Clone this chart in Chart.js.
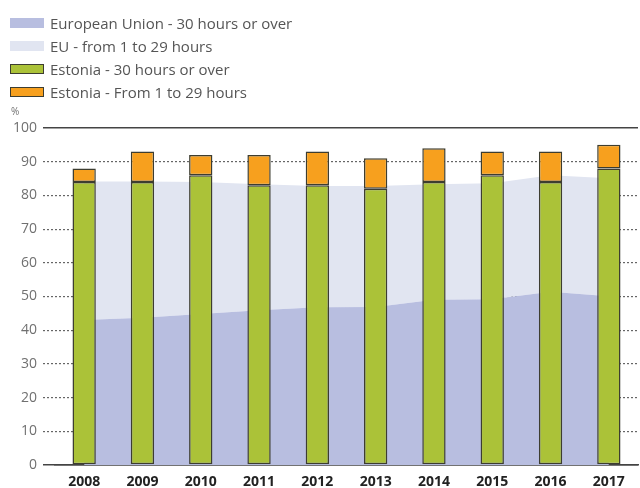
<!DOCTYPE html>
<html>
<head>
<meta charset="utf-8">
<script src="https://cdn.jsdelivr.net/npm/chart.js@4.4.1/dist/chart.umd.min.js"></script>
<style>
body { margin: 0; background: #fff; font-family: "Open Sans", sans-serif; }
#wrap { position: relative; width: 640px; height: 488px; }
#legend { position: absolute; left: 10px; top: 11px; }
.item { height: 23px; display: flex; align-items: center; font-size: 15px; color: #555; }
.box { width: 34px; height: 10px; margin-right: 6px; box-sizing: border-box; }
</style>
</head>
<body>
<div id="wrap">
  <canvas id="myChart" width="640" height="488"></canvas>
  <div id="legend"></div>
</div>
<script>
const years = ["2008", "2009", "2010", "2011", "2012", "2013", "2014", "2015", "2016", "2017"]
// EU shares
const euFull = [43.0, 43.7, 44.8, 45.9, 46.8, 46.9, 49.0, 49.2, 51.4, 50.1]
const euPart = [41.1, 40.4, 39.2, 37.4, 36.0, 35.9, 34.3, 34.4, 34.6, 35.0]
// Estonia, the bars
const eeFull = [84, 84, 86, 83, 83, 82, 84, 86, 84, 88]
const eePart = [4, 9, 6, 9, 10, 9, 10, 7, 9, 7]
const yTicks = [0, 10, 20, 30, 40, 50, 60, 70, 80, 90, 100]

const labels = ["European Union - 30 hours or over", "EU - from 1 to 29 hours",
    "Estonia - 30 hours or over", "Estonia - From 1 to 29 hours"]
const fills = ["#b8bee0", "#e1e5f1", "#abc238", "#f7a01e"]
const edge = "#3d3d30"

function solid(v) { return v === 0 || v === 100 }

const percentSign = {
    id: "percentSign",
    afterDraw(chart) {
        const c = chart.ctx
        c.save()
        c.fillStyle = "#707070"
        c.font = "10px 'Open Sans'"
        c.textBaseline = "alphabetic"
        c.fillText("%", 11, 115)
        c.restore()
    }
}

var ctx = document.getElementById('myChart').getContext('2d');
var chart = new Chart(ctx, {
    data: {
        labels: years,
        datasets: [{
            type: 'line',
            label: labels[0],
            data: euFull,
            stack: 'eu',
            fill: 'origin',
            backgroundColor: fills[0],
            borderWidth: 0,
            pointRadius: 0,
            tension: 0,
            order: 2
        }, {
            type: 'line',
            label: labels[1],
            data: euPart,
            stack: 'eu',
            fill: '-1',
            backgroundColor: fills[1],
            borderWidth: 0,
            pointRadius: 0,
            tension: 0,
            order: 2
        }, {
            type: 'bar',
            label: labels[2],
            data: eeFull,
            stack: 'ee',
            backgroundColor: fills[2],
            borderColor: edge,
            borderWidth: 1.5,
            borderSkipped: false,
            barPercentage: 0.4,
            categoryPercentage: 1,
            order: 1
        }, {
            type: 'bar',
            label: labels[3],
            data: eePart,
            stack: 'ee',
            backgroundColor: fills[3],
            borderColor: edge,
            borderWidth: 1.5,
            borderSkipped: false,
            barPercentage: 0.4,
            categoryPercentage: 1,
            order: 1
        }]
    },
    options: {
        responsive: false,
        animation: false,
        devicePixelRatio: 1,
        layout: { padding: { top: 128, right: 2, left: 0, bottom: 0 } },
        plugins: { legend: { display: false }, tooltip: { enabled: false } },
        scales: {
            x: {
                stacked: true,
                z: 1,
                grid: { display: false },
                border: { display: true, color: "#444", width: 1.5 },
                ticks: { padding: 1, color: "#222", font: { family: "Open Sans", size: 14, weight: "bold" } },
                afterFit(scale) { scale.height = 23 }
            },
            y: {
                stacked: true,
                min: 0,
                max: 100,
                afterBuildTicks(scale) { scale.ticks = yTicks.map(v => ({ value: v })) },
                grid: {
                    color: c => solid(c.tick.value) ? "#444" : "#666",
                    lineWidth: c => solid(c.tick.value) ? 1.5 : 1.2,
                    tickColor: c => solid(c.tick.value) ? "#444" : "#666",
                    tickWidth: c => solid(c.tick.value) ? 1.5 : 1.2,
                    tickLength: 12,
                    tickBorderDash: c => solid(c.tick.value) ? [] : [2, 2]
                },
                border: { display: false, dash: c => solid(c.tick.value) ? [] : [2, 2] },
                ticks: { padding: 6, color: "#707070", font: { family: "Open Sans", size: 14 } },
                afterFit(scale) { scale.width = 55 }
            }
        }
    },
    plugins: [percentSign]
});

// legend in the top left corner
var legend = document.getElementById('legend')
labels.forEach(function (name, i) {
    var row = document.createElement('div')
    row.className = 'item'
    var box = document.createElement('span')
    box.className = 'box'
    box.style.background = fills[i]
    if (i > 1) box.style.border = "1.5px solid " + edge
    row.appendChild(box)
    row.appendChild(document.createTextNode(name))
    legend.appendChild(row)
})
</script>
</body>
</html>
